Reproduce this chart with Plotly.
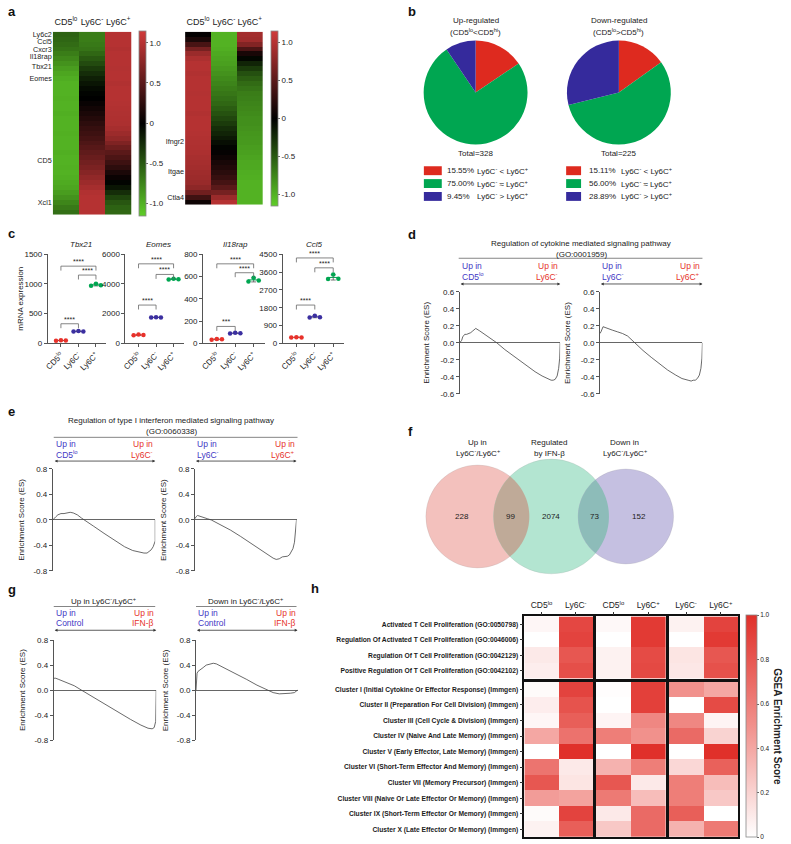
import numpy as np
import plotly.graph_objects as go

W, H = 791, 844
FONT = "Liberation Sans, Arial, sans-serif"
TXT = "#222222"
AX = "#555555"
BLUE = "#3f37c4"
RED = "#e6332a"

# ---------------- data ----------------
# (a) heatmaps (z-scores), rows listed top -> bottom
a_columns = ["CD5<sup>lo</sup>", "Ly6C<sup>-</sup>", "Ly6C<sup>+</sup>"]
a1_cd5lo = [-0.55, -0.57, -0.6, -0.64, -0.7, -0.76, -0.82, -0.88, -0.93, -0.97,
            -1.0, -1.0, -1.0, -0.99, -1.0, -1.0, -0.98, -1.0, -1.0, -1.0, -0.99,
            -1.0, -1.0, -1.0, -0.98, -1.0, -1.0, -0.99, -1.0, -0.98, -0.96, -0.93,
            -0.88, -0.82, -0.75, -0.68, -0.62]
a1_ly6cneg = [-0.7, -0.7, -0.68, -0.65, -0.58, -0.5, -0.42, -0.33, -0.25, -0.18,
              -0.12, -0.06, -0.02, 0.0, 0.05, 0.1, 0.15, 0.2, 0.25, 0.3, 0.34,
              0.38, 0.43, 0.48, 0.53, 0.58, 0.63, 0.68, 0.74, 0.8, 0.86, 0.92,
              0.98, 1.0, 1.0, 1.0, 1.0]
a1_ly6cpos = [1.0, 1.0, 1.0, 0.98, 1.0, 1.0, 1.0, 0.99, 1.0, 1.0, 0.98, 1.0, 1.0,
              1.0, 0.99, 0.98, 0.97, 0.96, 0.95, 0.92, 0.86, 0.8, 0.7, 0.6, 0.5,
              0.42, 0.34, 0.25, 0.15, 0.06, -0.02, -0.12, -0.25, -0.38, -0.48,
              -0.55, -0.58]
a1_genes = ["Ly6c2", "Ccl5", "Cxcr3", "Il18rap", "Tbx21", "Eomes", "CD5", "Xcl1"]
a1_gene_rows = [0, 1.5, 3, 4.5, 6.5, 9, 25.5, 34]

a2_cd5lo = [0.02, 0.15, 0.4, 0.65, 0.85, 0.95,
            1.0, 1.0, 0.98, 1.0, 1.0, 1.0, 0.99, 1.0, 1.0, 1.0, 0.98, 1.0, 1.0,
            1.0, 0.99, 0.98, 0.97, 0.96, 0.95, 0.93, 0.92,
            0.9, 0.88, 0.86, 0.84, 0.78, 0.62, 0.35, 0.08]
a2_ly6cneg = [-1.0, -1.0, -1.0, -0.98, -0.95, -0.92, -0.9, -0.86, -0.82, -0.78,
              -0.74, -0.7, -0.66, -0.62, -0.58, -0.52, -0.46, -0.4, -0.33, -0.26,
              -0.2, -0.14, -0.08, -0.02, 0.03, 0.08, 0.13, 0.18, 0.23, 0.3, 0.38,
              0.5, 0.65, 0.85, 1.0]
a2_ly6cpos = [0.9, 0.88, 0.72, 0.42, 0.14, -0.04, -0.2, -0.33, -0.45, -0.53, -0.6,
              -0.65, -0.7, -0.72, -0.74, -0.76, -0.78, -0.8, -0.8, -0.82, -0.84,
              -0.85, -0.86, -0.88, -0.9, -0.92, -0.94, -0.95, -0.97, -0.98, -1.0,
              -1.0, -1.0, -1.0, -1.0]
a2_genes = ["Ifngr2", "Itgae", "Ctla4"]
a2_gene_rows = [21.6, 27.8, 33]
a_cbar_vals = [-1.0, -0.5, 0.0, 0.5, 1.0]
a_cbar_text = ["-1.0", "-0.5", "0", "0.5", "1.0"]

# (b) pies
b_labels = ["Ly6C<sup>-</sup> &lt; Ly6C<sup>+</sup>",
            "Ly6C<sup>-</sup> ≈ Ly6C<sup>+</sup>",
            "Ly6C<sup>-</sup> &gt; Ly6C<sup>+</sup>"]
b_up_counts = [51, 246, 31]
b_down_counts = [34, 126, 65]

# (c) mRNA expression
c_genes = ["Tbx21", "Eomes", "Il18rap", "Ccl5"]
c_groups = ["CD5<sup>lo</sup>", "Ly6C<sup>-</sup>", "Ly6C<sup>+</sup>"]
c_tbx21 = [[45, 52, 48], [198, 207, 200], [972, 1005, 978]]
c_eomes = [[540, 590, 560], [1740, 1765, 1745], [4310, 4360, 4320]]
c_il18rap = [[32, 40, 36], [88, 95, 90], [555, 590, 565]]
c_ccl5 = [[300, 310, 300], [1310, 1400, 1320], [3250, 3480, 3260]]
c_ymax = [1500, 6000, 800, 4500]
c_dtick = [500, 2000, 200, 900]
c_sig = [["****", "****", "****"], ["****", "****", "****"],
         ["***", "****", "****"], ["****", "****", "****"]]

# (d) GSEA: regulation of cytokine mediated signaling pathway
d1_rank = [0, 1, 2, 3, 4, 5, 7, 9, 11, 13, 15, 16, 20, 25, 30, 37, 45, 55, 65, 75,
           82, 88, 91, 93, 95, 97, 98.5, 99.5, 100]
d1_es = [0, 0.01, 0.03, 0.07, 0.09, 0.1, 0.1, 0.11, 0.12, 0.14, 0.16, 0.17, 0.14,
         0.1, 0.06, 0.0, -0.08, -0.17, -0.26, -0.34, -0.39, -0.42, -0.44, -0.44,
         -0.43, -0.39, -0.3, -0.18, 0.0]
d2_rank = [0, 1, 3, 5, 8, 12, 17, 22, 27, 34, 42, 50, 58, 66, 74, 80, 86, 89, 91,
           93, 95, 97, 98.5, 99.5, 100]
d2_es = [0.11, 0.13, 0.19, 0.18, 0.17, 0.15, 0.13, 0.11, 0.08, 0.0, -0.09, -0.17,
         -0.25, -0.32, -0.38, -0.42, -0.44, -0.45, -0.44, -0.44, -0.42, -0.38,
         -0.3, -0.18, 0.0]

# (e) GSEA: regulation of type I interferon mediated signaling pathway
e1_rank = [0, 1, 3, 5, 8, 11, 14, 17, 20, 24, 28, 31, 40, 50, 60, 70, 78, 85, 89,
           92, 94, 96, 98, 99.5, 100, 100]
e1_es = [0, 0.02, 0.05, 0.08, 0.1, 0.1, 0.11, 0.12, 0.11, 0.08, 0.03, 0.0, -0.1,
         -0.21, -0.32, -0.42, -0.48, -0.51, -0.52, -0.52, -0.5, -0.47, -0.42,
         -0.36, -0.33, 0.0]
e2_rank = [0, 1, 2.5, 5, 8, 12, 16, 25, 35, 45, 55, 65, 72, 77, 80, 83, 86, 89,
           91, 93, 95, 96.5, 98, 99, 100]
e2_es = [0.02, 0.05, 0.07, 0.06, 0.04, 0.02, 0.0, -0.07, -0.16, -0.26, -0.37,
         -0.47, -0.55, -0.6, -0.62, -0.61, -0.58, -0.58, -0.57, -0.55, -0.5,
         -0.45, -0.35, -0.2, 0.0]

# (g) GSEA: IFN-beta
g1_rank = [0, 2, 5, 10, 15, 20, 27, 35, 45, 55, 65, 75, 85, 92, 96, 98, 99.5, 100]
g1_es = [0.19, 0.19, 0.17, 0.14, 0.11, 0.07, 0.0, -0.08, -0.18, -0.28, -0.38,
         -0.47, -0.56, -0.61, -0.62, -0.6, -0.5, 0.0]
g2_rank = [0, 0.5, 1, 2, 4, 7, 10, 14, 17, 20, 30, 40, 50, 60, 70, 76, 82, 88, 93,
           97, 99, 100]
g2_es = [0, 0.18, 0.27, 0.3, 0.32, 0.36, 0.4, 0.42, 0.43, 0.42, 0.34, 0.26, 0.17,
         0.08, 0.0, -0.04, -0.06, -0.06, -0.05, -0.04, -0.02, 0.0]

# (f) Venn counts
f_counts = [228, 99, 2074, 73, 152]

# (h) GSEA enrichment heatmap
h_columns = [["CD5<sup>lo</sup>", "Ly6C<sup>-</sup>"],
             ["CD5<sup>lo</sup>", "Ly6C<sup>+</sup>"],
             ["Ly6C<sup>-</sup>", "Ly6C<sup>+</sup>"]]
h_rows_top = ["Activated T Cell Proliferation (GO:0050798)",
              "Regulation Of Activated T Cell Proliferation (GO:0046006)",
              "Regulation Of T Cell Proliferation (GO:0042129)",
              "Positive Regulation Of T Cell Proliferation (GO:0042102)"]
h_rows_bottom = ["Cluster I (Initial Cytokine Or Effector Response) (Immgen)",
                 "Cluster II (Preparation For Cell Division) (Immgen)",
                 "Cluster III (Cell Cycle & Division) (Immgen)",
                 "Cluster IV (Naive And Late Memory) (Immgen)",
                 "Cluster V (Early Effector, Late Memory) (Immgen)",
                 "Cluster VI (Short-Term Effector And Memory) (Immgen)",
                 "Cluster VII (Memory Precursor) (Immgen)",
                 "Cluster VIII (Naive Or Late Effector Or Memory) (Immgen)",
                 "Cluster IX (Short-Term Effector Or Memory) (Immgen)",
                 "Cluster X (Late Effector Or Memory) (Immgen)"]
h_top = [[0.04, 0.88, 0.03, 0.95, 0.06, 0.9],
         [0.0, 0.9, 0.0, 0.95, 0.0, 0.95],
         [0.1, 0.8, 0.06, 0.86, 0.12, 0.8],
         [0.08, 0.84, 0.06, 0.87, 0.11, 0.83]]
h_bottom = [[0.02, 0.9, 0.01, 0.92, 0.5, 0.4],
            [0.08, 0.82, 0.0, 0.92, 0.0, 0.86],
            [0.04, 0.76, 0.05, 0.55, 0.55, 0.05],
            [0.4, 0.66, 0.6, 0.5, 0.7, 0.2],
            [0.0, 1.0, 0.0, 1.0, 0.0, 1.0],
            [0.65, 0.1, 0.35, 0.6, 0.18, 0.75],
            [0.8, 0.12, 0.8, 0.1, 0.6, 0.3],
            [0.45, 0.42, 0.62, 0.3, 0.6, 0.25],
            [0.02, 0.9, 0.1, 0.7, 0.76, 0.0],
            [0.06, 0.76, 0.25, 0.7, 0.35, 0.62]]

# ---------------- helpers ----------------
fig = go.Figure()
L = {}
ANN = []
SHP = []


def X(px):
    return px / W


def Y(py):
    return 1 - py / H


def font(size=8, color=TXT, **kw):
    return dict(family=FONT, size=size, color=color, **kw)


def ann(text, x, y, size=8, color=TXT, xanchor="center", yanchor="middle", **kw):
    ANN.append(dict(text=text, x=X(x), y=Y(y), xref="paper", yref="paper",
                    showarrow=False, font=font(size, color), xanchor=xanchor,
                    yanchor=yanchor, **kw))


def hline(x0, x1, y, color="#666", width=0.8):
    SHP.append(dict(type="line", xref="paper", yref="paper", x0=X(x0), x1=X(x1),
                    y0=Y(y), y1=Y(y), line=dict(color=color, width=width)))


def darrow(x0, x1, y):
    ANN.append(dict(text="", x=X(x1), y=Y(y), xref="paper", yref="paper",
                    ax=-(x1 - x0), ay=0, axref="pixel", ayref="pixel",
                    showarrow=True, arrowhead=2, startarrowhead=2,
                    arrowside="end+start", arrowsize=0.7, startarrowsize=0.7,
                    arrowwidth=0.8, arrowcolor="#333"))


def axes(n, x0, x1, y0, y1, xa, ya):
    xk = "xaxis" if n == 1 else f"xaxis{n}"
    yk = "yaxis" if n == 1 else f"yaxis{n}"
    xr = "x" if n == 1 else f"x{n}"
    yr = "y" if n == 1 else f"y{n}"
    base = dict(showgrid=False, zeroline=False, tickfont=font(8),
                linecolor=AX, tickcolor=AX, fixedrange=True)
    L[xk] = {**base, "domain": [X(x0), X(x1)], "anchor": yr, **xa}
    L[yk] = {**base, "domain": [Y(y1), Y(y0)], "anchor": xr, **ya}
    return xr, yr


def cbar(x0, y0, y1, thick, tickvals, ticktext, size):
    return dict(x=X(x0), xanchor="left", y=1 - (y0 + y1) / 2 / H, yanchor="middle",
                len=y1 - y0, lenmode="pixels", thickness=thick,
                thicknessmode="pixels", outlinewidth=0.8, outlinecolor="#888",
                tickvals=tickvals, ticktext=ticktext, ticks="outside", ticklen=2,
                tickcolor="#666", tickfont=font(size), xpad=0, ypad=0)


# ---------------- (a) ----------------
A_SCALE = [[0, "rgb(95,205,40)"], [0.5, "rgb(0,0,0)"], [1, "rgb(208,58,58)"]]
for n, (cols, genes, rows, x0, x1, y1, cbx) in enumerate([
        ((a1_cd5lo, a1_ly6cneg, a1_ly6cpos), a1_genes, a1_gene_rows, 49, 128, 213, 136),
        ((a2_cd5lo, a2_ly6cneg, a2_ly6cpos), a2_genes, a2_gene_rows, 182, 260, 203, 268)], start=1):
    nrow = len(cols[0])
    xr, yr = axes(n, x0, x1, 28, y1,
                  dict(range=[-0.5, 2.5], tickvals=[0, 1, 2], ticktext=a_columns,
                       side="top", ticks="", tickfont=font(9), showline=False,
                       ticklabelstandoff=4),
                  dict(range=[nrow - 0.5, -0.5], tickvals=rows, ticktext=genes,
                       ticks="", tickfont=font(7.2), showline=False))
    z = [list(r) for r in zip(*cols)]
    fig.add_trace(go.Heatmap(z=z, x=[0, 1, 2], y=list(range(nrow)),
                             colorscale=A_SCALE, zmin=-1.15, zmax=1.15,
                             xaxis=xr, yaxis=yr,
                             colorbar=cbar(cbx, 28, y1, 7, a_cbar_vals, a_cbar_text, 8)))

# ---------------- (b) ----------------
PIE_COLORS = ["#de2a1f", "#00a651", "#352a9c"]
for counts, cx, title1, title2, sq0, sq1, px, dx in [
        (b_up_counts, 474, "Up-regulated", "(CD5<sup>lo</sup>&lt;CD5<sup>hi</sup>)", 422, 440, 443, 473),
        (b_down_counts, 618, "Down-regulated", "(CD5<sup>lo</sup>&gt;CD5<sup>hi</sup>)", 565, 580, 586, 618)]:
    r = 52.5
    fig.add_trace(go.Pie(values=counts, labels=b_labels, sort=False,
                         direction="clockwise", rotation=0, textinfo="none",
                         marker=dict(colors=PIE_COLORS, line=dict(width=0)),
                         domain=dict(x=[X(cx - r), X(cx + r)], y=[Y(89.5 + r), Y(89.5 - r)]),
                         showlegend=False, hoverinfo="label+percent"))
    ann(title1, cx, 17, size=8)
    ann(title2, cx, 28, size=8)
    total = sum(counts)
    ann(f"Total={total}", cx, 151, size=8)
    for i, (cnt, lab) in enumerate(zip(counts, b_labels)):
        yy = 168.5 + 13 * i
        SHP.append(dict(type="rect", xref="paper", yref="paper", x0=X(sq0), x1=X(sq1),
                        y0=Y(yy + 4.5), y1=Y(yy - 4.5), fillcolor=PIE_COLORS[i],
                        line=dict(width=0)))
        ann(f"{100 * cnt / total:.2f}%", px, yy, size=8, xanchor="left")
        ann(lab, dx, yy, size=8, xanchor="left")

# ---------------- (c) ----------------
C_COLORS = ["#e8312a", "#3b2fa0", "#00a651"]
c_data = [c_tbx21, c_eomes, c_il18rap, c_ccl5]
c_x = [(44, 103), (122, 181), (200, 262), (280, 342)]
c_title_x = [77, 155, 233, 312]
c_brackets = [[(0, 1, 0.22), (1, 2, 0.767), (0, 2, 0.867)],
              [(0, 1, 0.43), (1, 2, 0.774), (0, 2, 0.893)],
              [(0, 1, 0.19), (1, 2, 0.793), (0, 2, 0.893)],
              [(0, 1, 0.43), (1, 2, 0.848), (0, 2, 0.959)]]
offsets = [-0.28, 0.0, 0.28]
for i, gene in enumerate(c_genes):
    n = 3 + i
    ymax = c_ymax[i]
    xr, yr = axes(n, c_x[i][0], c_x[i][1], 253, 343,
                  dict(range=[-0.75, 2.6], tickvals=[0, 1, 2], ticktext=c_groups,
                       tickangle=-45, ticks="outside", ticklen=3, showline=True,
                       linewidth=0.8, tickfont=font(8)),
                  dict(range=[0, ymax], dtick=c_dtick[i], tick0=0, ticks="outside",
                       ticklen=3, showline=True, linewidth=0.8, tickfont=font(8)))
    for g, vals in enumerate(c_data[i]):
        m = float(np.mean(vals))
        sd = float(np.std(vals, ddof=1))
        fig.add_trace(go.Scatter(x=[g - 0.3, g + 0.3], y=[m, m], mode="lines",
                                 line=dict(color=C_COLORS[g], width=1), xaxis=xr,
                                 yaxis=yr, showlegend=False, hoverinfo="skip"))
        fig.add_trace(go.Scatter(x=[g], y=[m], mode="markers",
                                 marker=dict(size=1, color="rgba(0,0,0,0)"),
                                 error_y=dict(type="data", array=[sd], color="#555",
                                              thickness=0.8, width=2.5),
                                 xaxis=xr, yaxis=yr, showlegend=False, hoverinfo="skip"))
        fig.add_trace(go.Scatter(x=[g + o for o in offsets], y=vals, mode="markers",
                                 marker=dict(size=4.5, color=C_COLORS[g]),
                                 xaxis=xr, yaxis=yr, showlegend=False, cliponaxis=False))
    for (ga, gb, lev), star in zip(c_brackets[i], c_sig[i]):
        yl = lev * ymax
        drop = 0.05 * ymax
        fig.add_trace(go.Scatter(x=[ga, ga, gb, gb], y=[yl - drop, yl, yl, yl - drop],
                                 mode="lines", line=dict(color="#666", width=0.8),
                                 xaxis=xr, yaxis=yr, showlegend=False, hoverinfo="skip"))
        ANN.append(dict(text=star, x=(ga + gb) / 2, y=yl, xref=xr, yref=yr,
                        showarrow=False, font=font(7), yanchor="bottom", yshift=-1))
    ann(f"<i>{gene}</i>", c_title_x[i], 243, size=8)
ann("mRNA expression", 17, 298, size=8, textangle=-90)


# ---------------- ES panels (d, e, g) ----------------
def es_panel(n, x0, x1, y0, y1, xs, ys, lim, tv, ytitle_x):
    tt = [f"{v:.1f}".replace("-0.0", "0.0") for v in tv]
    xr, yr = axes(n, x0, x1, y0, y1,
                  dict(range=[0, 100], visible=False),
                  dict(range=[-lim, lim], tickvals=tv, ticktext=tt, ticks="outside",
                       ticklen=3, showline=True, linewidth=0.8, zeroline=True,
                       zerolinecolor="#666", zerolinewidth=0.8, tickfont=font(8)))
    fig.add_trace(go.Scatter(x=xs, y=ys, mode="lines", line=dict(color="#444", width=0.8),
                             xaxis=xr, yaxis=yr, showlegend=False, cliponaxis=False))
    ann("Enrichment Score (ES)", ytitle_x, (y0 + y1) / 2, size=8, textangle=-90)


def es_header(xl, xr, y1, y2, ya, left2, right2):
    ann("Up in", xl, y1, size=8.5, color=BLUE, xanchor="left")
    ann(left2, xl, y2, size=8.5, color=BLUE, xanchor="left")
    ann("Up in", xr, y1, size=8.5, color=RED, xanchor="right")
    ann(right2, xr, y2, size=8.5, color=RED, xanchor="right")
    darrow(xl, xr, ya)


TV6 = [-0.6, -0.4, -0.2, 0.0, 0.2, 0.4, 0.6]
TV8 = [-0.8, -0.4, 0.0, 0.4, 0.8]

# (d)
ann("Regulation of cytokine mediated signaling pathway", 580, 242, size=8)
ann("(GO:0001959)", 580, 253, size=8)
hline(457, 702, 257)
es_header(458, 559, 265, 275, 283, "CD5<sup>lo</sup>", "Ly6C<sup>-</sup>")
es_header(599, 702, 265, 275, 283, "Ly6C<sup>-</sup>", "Ly6C<sup>+</sup>")
es_panel(7, 458, 559, 291, 394, d1_rank, d1_es, 0.6, TV6, 425)
es_panel(8, 599, 702, 291, 394, d2_rank, d2_es, 0.6, TV6, 567)

# (e)
ann("Regulation of type I interferon mediated signaling pathway", 168, 421, size=8)
ann("(GO:0060338)", 168, 432, size=8)
hline(50, 295, 438)
es_header(50, 152, 445, 455, 462, "CD5<sup>lo</sup>", "Ly6C<sup>-</sup>")
es_header(192, 294, 445, 455, 462, "Ly6C<sup>-</sup>", "Ly6C<sup>+</sup>")
es_panel(9, 49, 152, 470, 573, e1_rank, e1_es, 0.8, TV8, 18)
es_panel(10, 192, 294, 470, 573, e2_rank, e2_es, 0.8, TV8, 161)

# (g)
ann("Up in Ly6C<sup>-</sup>/Ly6C<sup>+</sup>", 100, 603, size=8)
hline(50, 152, 609)
ann("Down in Ly6C<sup>-</sup>/Ly6C<sup>+</sup>", 243, 603, size=8)
hline(193, 294, 609)
es_header(50, 153, 616, 626, 633, "Control", "IFN-β")
es_header(193, 295, 616, 626, 633, "Control", "IFN-β")
es_panel(11, 50, 153, 643, 744, g1_rank, g1_es, 0.8, TV8, 18)
es_panel(12, 193, 295, 643, 744, g2_rank, g2_es, 0.8, TV8, 162)

# ---------------- (f) Venn ----------------
circles = [((476, 518), 52, "#f3c1bd"), ((550, 518), 58, "#b3e5d1"),
           ((625, 518), 48, "#c5c0e1")]
for (cx, cy), r, col in circles:
    SHP.append(dict(type="circle", xref="paper", yref="paper", x0=X(cx - r), x1=X(cx + r),
                    y0=Y(cy + r), y1=Y(cy - r), fillcolor=col,
                    line=dict(color="rgba(160,160,160,0.35)", width=0.6)))


def lens(c1, r1, c2, r2, n=48):
    d = c2[0] - c1[0]
    a = (d * d + r1 * r1 - r2 * r2) / (2 * d)
    t1 = np.arccos(a / r1)
    t2 = np.arccos((d - a) / r2)
    pts = [(c1[0] + r1 * np.cos(t), c1[1] + r1 * np.sin(t)) for t in np.linspace(-t1, t1, n)]
    pts += [(c2[0] + r2 * np.cos(t), c2[1] + r2 * np.sin(t))
            for t in np.linspace(np.pi - t2, np.pi + t2, n)]
    return "M " + " L ".join(f"{X(px):.5f},{Y(py):.5f}" for px, py in pts) + " Z"


for (i, j), col in [((0, 1), "#bfaa98"), ((1, 2), "#8dbcb9")]:
    SHP.append(dict(type="path", xref="paper", yref="paper",
                    path=lens(circles[i][0], circles[i][1], circles[j][0], circles[j][1]),
                    fillcolor=col, line=dict(width=0)))
for cnt, xx in zip(f_counts, [460, 509, 550, 594, 638]):
    ann(str(cnt), xx, 518, size=8)
ann("Up in", 476, 443, size=8)
ann("Ly6C<sup>-</sup>/Ly6C<sup>+</sup>", 476, 454, size=8)
ann("Regulated", 548, 443, size=8)
ann("by IFN-β", 548, 454, size=8)
ann("Down in", 624, 443, size=8)
ann("Ly6C<sup>-</sup>/Ly6C<sup>+</sup>", 624, 454, size=8)

# ---------------- (h) ----------------
H_SCALE = [[0, "#ffffff"], [0.5, "#f1918c"], [1, "#e0302a"]]
blocks = [(523, 592), (595, 665), (668, 738)]
groups = [(h_rows_top, h_top, 619, 682), (h_rows_bottom, h_bottom, 685, 842)]
n = 13
first = True
for b, (bx0, bx1) in enumerate(blocks):
    for g, (rows, vals, gy0, gy1) in enumerate(groups):
        nr = len(rows)
        xa = dict(range=[-0.5, 1.5], tickvals=[0, 1], showline=True, mirror=True,
                  linecolor="#111", linewidth=1.6)
        if g == 0:
            xa.update(ticktext=h_columns[b], side="top", ticks="outside", ticklen=3,
                      tickcolor="#333", tickfont=font(8.5))
        else:
            xa.update(showticklabels=False, ticks="")
        ya = dict(range=[nr - 0.5, -0.5], tickvals=list(range(nr)), showline=True,
                  mirror=True, linecolor="#111", linewidth=1.6)
        if b == 0:
            ya.update(ticktext=rows, ticks="outside", ticklen=3, tickcolor="#333",
                      tickfont=font(6.7, color="#1a1a1a", weight="bold"))
        else:
            ya.update(showticklabels=False, ticks="")
        xr, yr = axes(n, bx0, bx1, gy0, gy1, xa, ya)
        z = [row[2 * b:2 * b + 2] for row in vals]
        fig.add_trace(go.Heatmap(z=z, x=[0, 1], y=list(range(nr)), colorscale=H_SCALE,
                                 zmin=0, zmax=1, xaxis=xr, yaxis=yr, showscale=first,
                                 colorbar=cbar(746, 619, 841, 11, [0, 0.2, 0.4, 0.6, 0.8, 1.0],
                                               ["0", "0.2", "0.4", "0.6", "0.8", "1.0"], 6.5)))
        first = False
        n += 1
ann("<b>GSEA Enrichment Score</b>", 778, 730, size=10, textangle=90)

# ---------------- panel letters ----------------
for letter, x, y in [("a", 2, 8), ("b", 404, 8), ("c", 2, 232), ("d", 404, 233),
                     ("e", 2, 412), ("f", 404, 432), ("g", 2, 592), ("h", 307, 591)]:
    ann(f"<b>{letter}</b>", x, y, size=13, color="#111", xanchor="left")

L.update(width=W, height=H, margin=dict(l=0, r=0, t=0, b=0), paper_bgcolor="white",
         plot_bgcolor="rgba(0,0,0,0)", showlegend=False, annotations=ANN, shapes=SHP,
         font=font(8))
fig.update_layout(L)
fig.write_html("out.html", config={"displayModeBar": False},
               post_script="document.body.style.margin='0px';document.body.style.padding='0px';")
